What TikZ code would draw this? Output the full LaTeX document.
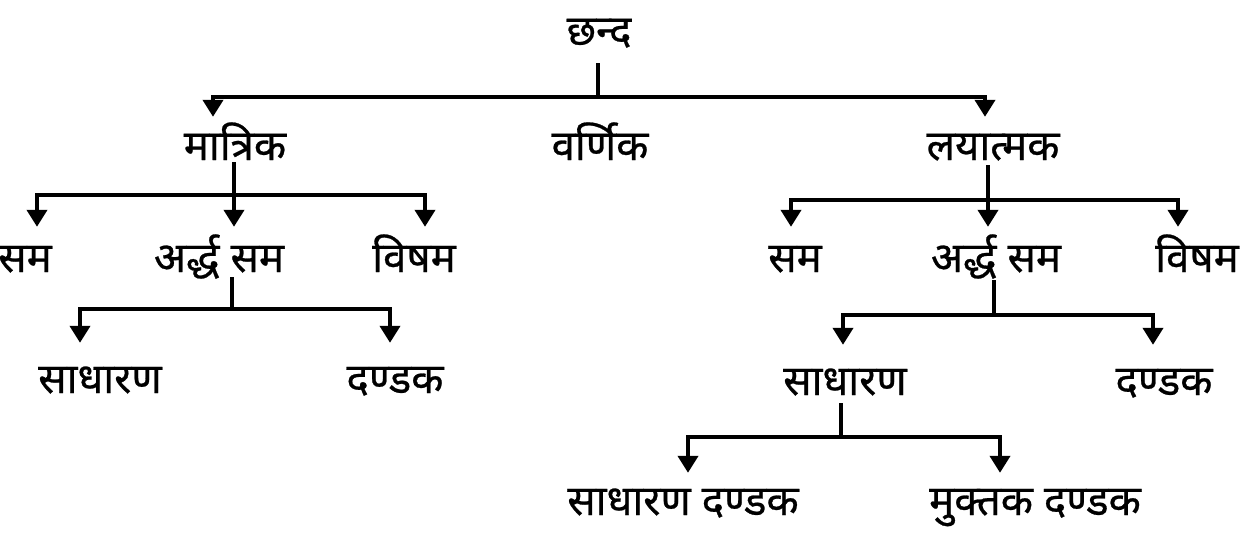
\documentclass[tikz,border=0pt]{standalone}
\usepackage{fontspec}
\newfontfamily\deva[Script=Devanagari,FakeBold=0.6]{Noto Sans}
\usetikzlibrary{arrows.meta}
\begin{document}
\begin{tikzpicture}[x=1pt,y=-1pt,
  lbl/.style={font=\deva\fontsize{42}{48}\selectfont, anchor=base, inner sep=0pt, text height=34pt, text depth=8pt},
  conn/.style={line width=4pt},
  arr/.style={conn,-{Triangle[width=20pt,length=17pt]}}]
\useasboundingbox (0,0) rectangle (1250,535);
% nodes
\node[lbl] (chanda) at (599,45) {छन्द};
\node[lbl] (matrik) at (235,160) {मात्रिक};
\node[lbl] (varnik) at (600,160) {वर्णिक};
\node[lbl] (layatmak) at (993,160) {लयात्मक};
\node[lbl] (samL) at (25,272) {सम};
\node[lbl] (ardhL) at (219,272) {अर्द्ध सम};
\node[lbl] (vishamL) at (414,272) {विषम};
\node[lbl] (sadhL) at (100,393) {साधारण};
\node[lbl] (dandL) at (395,393) {दण्डक};
\node[lbl] (samR) at (795,272) {सम};
\node[lbl] (ardhR) at (996,272) {अर्द्ध सम};
\node[lbl] (vishamR) at (1197,272) {विषम};
\node[lbl] (sadhR) at (845,395) {साधारण};
\node[lbl] (dandR) at (1164,395) {दण्डक};
\node[lbl] (sdand) at (683,515) {साधारण दण्डक};
\node[lbl] (mdand) at (1035,515) {मुक्तक दण्डक};
% junctions
\coordinate (j0) at (598,97);
\coordinate (j1) at (234,195);
\coordinate (j2) at (232,309);
\coordinate (j3) at (988,200);
\coordinate (j4) at (994,315);
\coordinate (j5) at (841,437);
% drops from parents
\draw[conn,shorten <=10pt] (chanda.south -| j0) -- (j0);
\draw[conn,shorten <=-6pt] (matrik.south -| j1) -- (j1);
\draw[conn,shorten <=-3pt] (ardhL.south -| j2) -- (j2);
\draw[conn,shorten <=-3pt] (layatmak.south -| j3) -- (j3);
\draw[conn] (ardhR.south -| j4) -- (j4);
\draw[conn] (sadhR.south -| j5) -- (j5);
% arrows to children
\draw[arr,shorten >=9pt] (j0) -| ([xshift=-22pt]matrik.north);
\draw[arr,shorten >=9pt] (j0) -| ([xshift=-8pt]layatmak.north);
\draw[arr,shorten >=11pt] (j1) -| ([xshift=12pt]samL.north);
\draw[arr,shorten >=11pt] (j1) -- (ardhL.north -| j1);
\draw[arr,shorten >=11pt] (j1) -| ([xshift=11pt]vishamL.north);
\draw[arr,shorten >=16pt] (j2) -| ([xshift=-20pt]sadhL.north);
\draw[arr,shorten >=16pt] (j2) -| ([xshift=-5pt]dandL.north);
\draw[arr,shorten >=11pt] (j3) -| ([xshift=-4pt]samR.north);
\draw[arr,shorten >=11pt] (j3) -- (ardhR.north -| j3);
\draw[arr,shorten >=11pt] (j3) -| ([xshift=-19pt]vishamR.north);
\draw[arr,shorten >=16pt] (j4) -| ([xshift=-2pt]sadhR.north);
\draw[arr,shorten >=16pt] (j4) -| ([xshift=-11pt]dandR.north);
\draw[arr,shorten >=8pt] (j5) -| ([xshift=5pt]sdand.north);
\draw[arr,shorten >=8pt] (j5) -| ([xshift=-35pt]mdand.north);
\end{tikzpicture}
\end{document}
